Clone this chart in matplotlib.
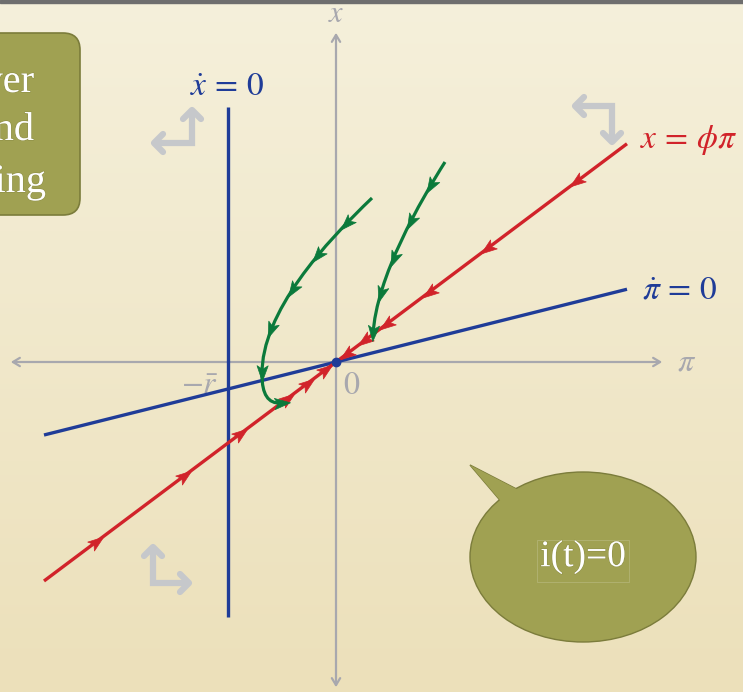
import numpy as np
import matplotlib.pyplot as plt
from matplotlib.path import Path
from matplotlib.patches import PathPatch, Ellipse, Polygon, FancyBboxPatch, Rectangle
from matplotlib.markers import MarkerStyle
from matplotlib.transforms import Affine2D
import matplotlib.patheffects as pe

# phase diagram parameters
phi = 0.75            # slope of x = phi*pi
pidot_slope = 0.25    # slope of the pi_dot = 0 locus
rbar = 1.08           # x_dot = 0 sits at pi = -rbar
pi_span = (-2.92, 2.91)
xdot_span = (-2.55, 2.55)

# arrow positions (pi values) on the saddle path
saddle_in_upper = [2.41, 1.52, 0.94, 0.51, 0.29, 0.11]
saddle_in_lower = [-2.40, -1.52, -0.96, -0.49, -0.29, -0.11]

# green trajectories as cubic bezier pieces (pi, x)
left_traj = [
    [(0.36, 1.64), (-0.10, 1.20), (-0.75, 0.50), (-0.74, -0.13)],
    [(-0.74, -0.13), (-0.74, -0.32), (-0.68, -0.42), (-0.55, -0.41)],
]
left_arrows = [(0.11, 1.40), (-0.18, 1.07), (-0.43, 0.72), (-0.63, 0.32), (-0.73, -0.10), (-0.55, -0.41)]
right_traj = [
    [(1.09, 2.00), (0.85, 1.62), (0.40, 0.85), (0.37, 0.27)],
]
right_arrows = [(0.94, 1.77), (0.72, 1.42), (0.56, 1.05), (0.44, 0.69), (0.37, 0.30)]

# corner arrows: (corner, tip1, tip2)
corner_arrows = [
    ((-1.44, 2.19), (-1.44, 2.52), (-1.82, 2.19)),
    ((2.76, 2.56), (2.39, 2.56), (2.76, 2.20)),
    ((-1.83, -2.21), (-1.83, -1.85), (-1.47, -2.21)),
]

RED = '#d1232a'
BLUE = '#1f3c98'
GREEN = '#0b7a3b'
GRAY = '#a8a8ae'
OLIVE = '#a0a152'
OLIVE_EDGE = '#7b7c3b'

plt.rcParams['mathtext.fontset'] = 'stix'

fig = plt.figure(figsize=(7.43, 6.92), dpi=100)
ax = fig.add_axes([0, 0, 1, 1])
ax.set_xlim(-3.36, 4.07)
ax.set_ylim(-3.30, 3.62)
ax.axis('off')

# parchment background
top = np.array([245, 240, 219]) / 255
bot = np.array([236, 224, 186]) / 255
g = np.linspace(0, 1, 256)[:, None]
bg = (top[None, :] * (1 - g) + bot[None, :] * g)[:, None, :]
ax.imshow(bg, extent=[-3.36, 4.07, -3.30, 3.62], aspect='auto', zorder=0)
ax.add_patch(Rectangle((-3.36, 3.595), 7.43, 0.025, color='#6e6e6e', zorder=1))


def stealth(angle):
    verts = [(1, 0), (-0.75, 0.62), (-0.35, 0), (-0.75, -0.62), (1, 0)]
    codes = [Path.MOVETO, Path.LINETO, Path.LINETO, Path.LINETO, Path.CLOSEPOLY]
    return MarkerStyle(Path(verts, codes), transform=Affine2D().rotate_deg(angle))


def bez(seg, t):
    p = np.array(seg)
    t = t[:, None]
    pts = ((1 - t) ** 3) * p[0] + 3 * ((1 - t) ** 2) * t * p[1] + 3 * (1 - t) * t ** 2 * p[2] + t ** 3 * p[3]
    d = 3 * ((1 - t) ** 2) * (p[1] - p[0]) + 6 * (1 - t) * t * (p[2] - p[1]) + 3 * t ** 2 * (p[3] - p[2])
    return pts, d


def draw_traj(segs, arrows, color):
    verts, codes = [segs[0][0]], [Path.MOVETO]
    for s in segs:
        verts += list(s[1:])
        codes += [Path.CURVE4] * 3
    ax.add_patch(PathPatch(Path(verts, codes), fc='none', ec=color, lw=2.3, zorder=4))
    t = np.linspace(0, 1, 400)
    samp = [bez(s, t) for s in segs]
    pts = np.vstack([s[0] for s in samp])
    ders = np.vstack([s[1] for s in samp])
    for a in arrows:
        i = np.argmin(np.hypot(pts[:, 0] - a[0], pts[:, 1] - a[1]))
        ang = np.degrees(np.arctan2(ders[i, 1], ders[i, 0]))
        ax.plot(pts[i, 0], pts[i, 1], marker=stealth(ang), ms=13, color=color, mec=color, mew=0.5, zorder=5)


# coordinate axes
ax.annotate('', xy=(-3.28, 0), xytext=(3.29, 0),
            arrowprops=dict(arrowstyle='<->,head_length=0.5,head_width=0.3', color=GRAY, lw=1.6), zorder=2)
ax.annotate('', xy=(0, 3.32), xytext=(0, -3.28),
            arrowprops=dict(arrowstyle='<->,head_length=0.5,head_width=0.3', color=GRAY, lw=1.6), zorder=2)
ax.text(0, 3.48, r'$x$', color=GRAY, fontsize=22, ha='center', va='center')
ax.text(3.51, 0.0, r'$\pi$', color=GRAY, fontsize=23, ha='center', va='center')
ax.text(0.16, -0.23, r'$0$', color=GRAY, fontsize=23, ha='center', va='center')
ax.text(-1.36, -0.23, r'$-\bar{r}$', color=GRAY, fontsize=23, ha='center', va='center')

# loci
pis = np.array(pi_span)
ax.plot(pis, pidot_slope * pis, color=BLUE, lw=2.4, solid_capstyle='butt', zorder=3)
ax.plot([-rbar, -rbar], xdot_span, color=BLUE, lw=2.4, solid_capstyle='butt', zorder=3)
ax.plot(pis, phi * pis, color=RED, lw=2.4, solid_capstyle='butt', zorder=3)

ang_in_up = np.degrees(np.arctan2(-phi, -1))
ang_in_lo = np.degrees(np.arctan2(phi, 1))
for p in saddle_in_upper:
    ax.plot(p, phi * p, marker=stealth(ang_in_up), ms=13, color=RED, mec=RED, mew=0.5, zorder=5)
for p in saddle_in_lower:
    ax.plot(p, phi * p, marker=stealth(ang_in_lo), ms=13, color=RED, mec=RED, mew=0.5, zorder=5)

draw_traj(left_traj, left_arrows, GREEN)
draw_traj(right_traj, right_arrows, GREEN)
ax.plot(0, 0, 'o', color=BLUE, ms=6, zorder=6)

ax.text(-1.09, 2.75, r'$\dot{x}\,=\,0$', color=BLUE, fontsize=24, ha='center', va='center')
ax.text(3.04, 2.22, r'$x\,=\,\phi\pi$', color=RED, fontsize=24, ha='left', va='center')
ax.text(3.06, 0.72, r'$\dot{\pi}\,=\,0$', color=BLUE, fontsize=24, ha='left', va='center')

# corner arrows
for c, t1, t2 in corner_arrows:
    ax.plot([t1[0], c[0], t2[0]], [t1[1], c[1], t2[1]], color='#c6c8cb', lw=4.5,
            solid_joinstyle='miter', solid_capstyle='butt', zorder=2)
    for t in (t1, t2):
        dx, dy = np.sign(t[0] - c[0]), np.sign(t[1] - c[1])
        px, py = -dy, dx
        s = 0.09
        ax.plot([t[0] - dx * s + px * s, t[0], t[0] - dx * s - px * s],
                [t[1] - dy * s + py * s, t[1], t[1] - dy * s - py * s],
                color='#c6c8cb', lw=4.5, solid_capstyle='round', solid_joinstyle='round', zorder=2)

# text box at top left
ax.add_patch(FancyBboxPatch((-3.7, 1.47), 1.14, 1.82, boxstyle='round,pad=0,rounding_size=0.17',
                            fc=OLIVE, ec=OLIVE_EDGE, lw=1.2, zorder=7))
for s, xr, yb in [('ver', -3.02, 2.70), ('nd', -3.02, 2.22), ('ing', -2.90, 1.70)]:
    ax.text(xr, yb, s, color='white', fontsize=29, family='Liberation Serif',
            ha='right', va='baseline', zorder=8, path_effects=[pe.withStroke(linewidth=0.8, foreground='#6b6c30', alpha=0.35)])

# speech bubble
tail = [(1.34, -1.03), (1.74, -1.50), (1.96, -1.35)]
ax.add_patch(Polygon(tail, closed=True, fc=OLIVE, ec=OLIVE_EDGE, lw=1.0, zorder=7))
ax.add_patch(Ellipse((2.47, -1.95), 2.26, 1.70, fc=OLIVE, ec=OLIVE_EDGE, lw=1.0, zorder=8))
ax.add_patch(Polygon(tail, closed=True, fc=OLIVE, ec='none', zorder=9))
ax.add_patch(Rectangle((2.01, -2.20), 0.92, 0.42, fc='none', ec='#b3b474', lw=0.6, zorder=9))
ax.text(2.47, -1.95, 'i(t)=0', color='white', fontsize=27, family='Liberation Serif',
        ha='center', va='center', zorder=10,
        path_effects=[pe.withStroke(linewidth=0.8, foreground='#6b6c30', alpha=0.35)])

fig.savefig('out.png', dpi=100)
